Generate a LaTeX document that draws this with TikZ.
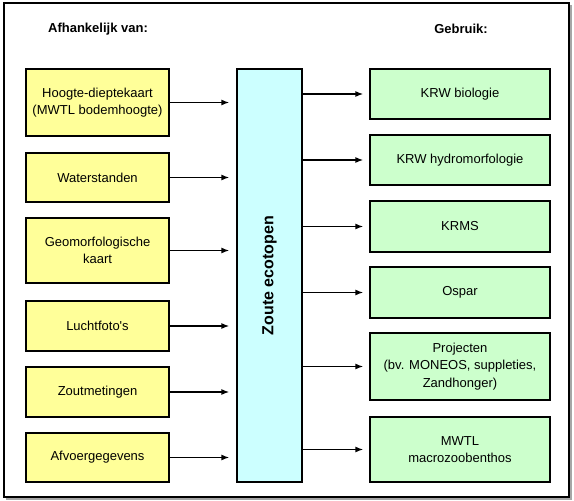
\documentclass[tikz,border=0pt]{standalone}
\usepackage{fontspec}
\setmainfont{Liberation Sans}
\usepackage{tikz}
\usetikzlibrary{positioning,arrows.meta}
\definecolor{geel}{HTML}{FFFF99}
\definecolor{groen}{HTML}{CCFFCC}
\definecolor{cyaan}{HTML}{CCFFFF}

\begin{document}
\begin{tikzpicture}[x=1pt,y=-1pt]
\tikzstyle{bron}=[rectangle, draw=black, line width=1.3pt, fill=geel, minimum width=143pt, align=center, inner sep=0pt]
\tikzstyle{gebruik}=[rectangle, draw=black, line width=1.3pt, fill=groen, minimum width=180pt, align=center, inner sep=0pt]
\tikzstyle{kop}=[font=\fontsize{13}{16}\selectfont\bfseries]
\tikzstyle{connect}=[-{Latex[length=8pt,width=6pt]}, line width=1.4pt]

	\useasboundingbox (0,0) rectangle (574,501);
	\draw[gray!70, line width=2pt] (571,5) -- (571,499) -- (6,499);
	\draw[line width=1.2pt] (4,3) rectangle (569,497);

	\node[kop] (lkop) at (98,29) {Afhankelijk van:};
	\node[kop] (rkop) at (461,29) {Gebruik:};

	% midden
	\node[rectangle, draw=black, line width=1.3pt, fill=cyaan, minimum width=65pt, minimum height=413pt] (eco) at (269.5,275.5) {};
	\node[rotate=90, font=\fontsize{16}{19}\selectfont\bfseries] (ecotxt) at (eco.center) {Zoute ecotopen};

	\begin{scope}[font=\fontsize{13}{17.5}\selectfont]
	% links
	\node[bron, minimum height=67pt] (hd) at (97.5,102.5) {Hoogte-dieptekaart\\(MWTL bodemhoogte)};
	\node[bron, minimum height=49pt] (ws) at (97.5,177.5) {Waterstanden};
	\node[bron, minimum height=65pt] (gm) at (97.5,250.5) {Geomorfologische\\kaart};
	\node[bron, minimum height=50pt] (lf) at (97.5,326) {Luchtfoto\textquotesingle s};
	\node[bron, minimum height=50pt] (zm) at (97.5,392) {Zoutmetingen};
	\node[bron, minimum height=49pt] (af) at (97.5,457.5) {Afvoergegevens};

	% rechts
	\node[gebruik, minimum height=50pt] (kb) at (460,94) {KRW biologie};
	\node[gebruik, minimum height=50pt] (kh) at (460,160) {KRW hydromorfologie};
	\node[gebruik, minimum height=51pt] (krms) at (460,226.5) {KRMS};
	\node[gebruik, minimum height=51pt] (os) at (460,292.5) {Ospar};
	\node[gebruik, minimum height=67pt] (pr) at (460,366.5) {Projecten\\(bv. MONEOS, suppleties,\\Zandhonger)};
	\node[gebruik, minimum height=65pt] (mz) at (460,449.5) {MWTL\\macrozoobenthos};
	\end{scope}

	\path[connect, shorten >=7pt]
		(hd) edge [] (hd -| eco.west)
		(ws) edge [] (ws -| eco.west)
		(gm) edge [] (gm -| eco.west)
		(lf) edge [] (lf -| eco.west)
		(zm) edge [] (zm -| eco.west)
		(af) edge [] (af -| eco.west);

	\path[connect, shorten >=6pt]
		(eco.east |- kb) edge [] (kb)
		(eco.east |- kh) edge [] (kh)
		(eco.east |- krms) edge [] (krms)
		(eco.east |- os) edge [] (os)
		(eco.east |- pr) edge [] (pr)
		(eco.east |- mz) edge [] (mz);

\end{tikzpicture}
\end{document}
